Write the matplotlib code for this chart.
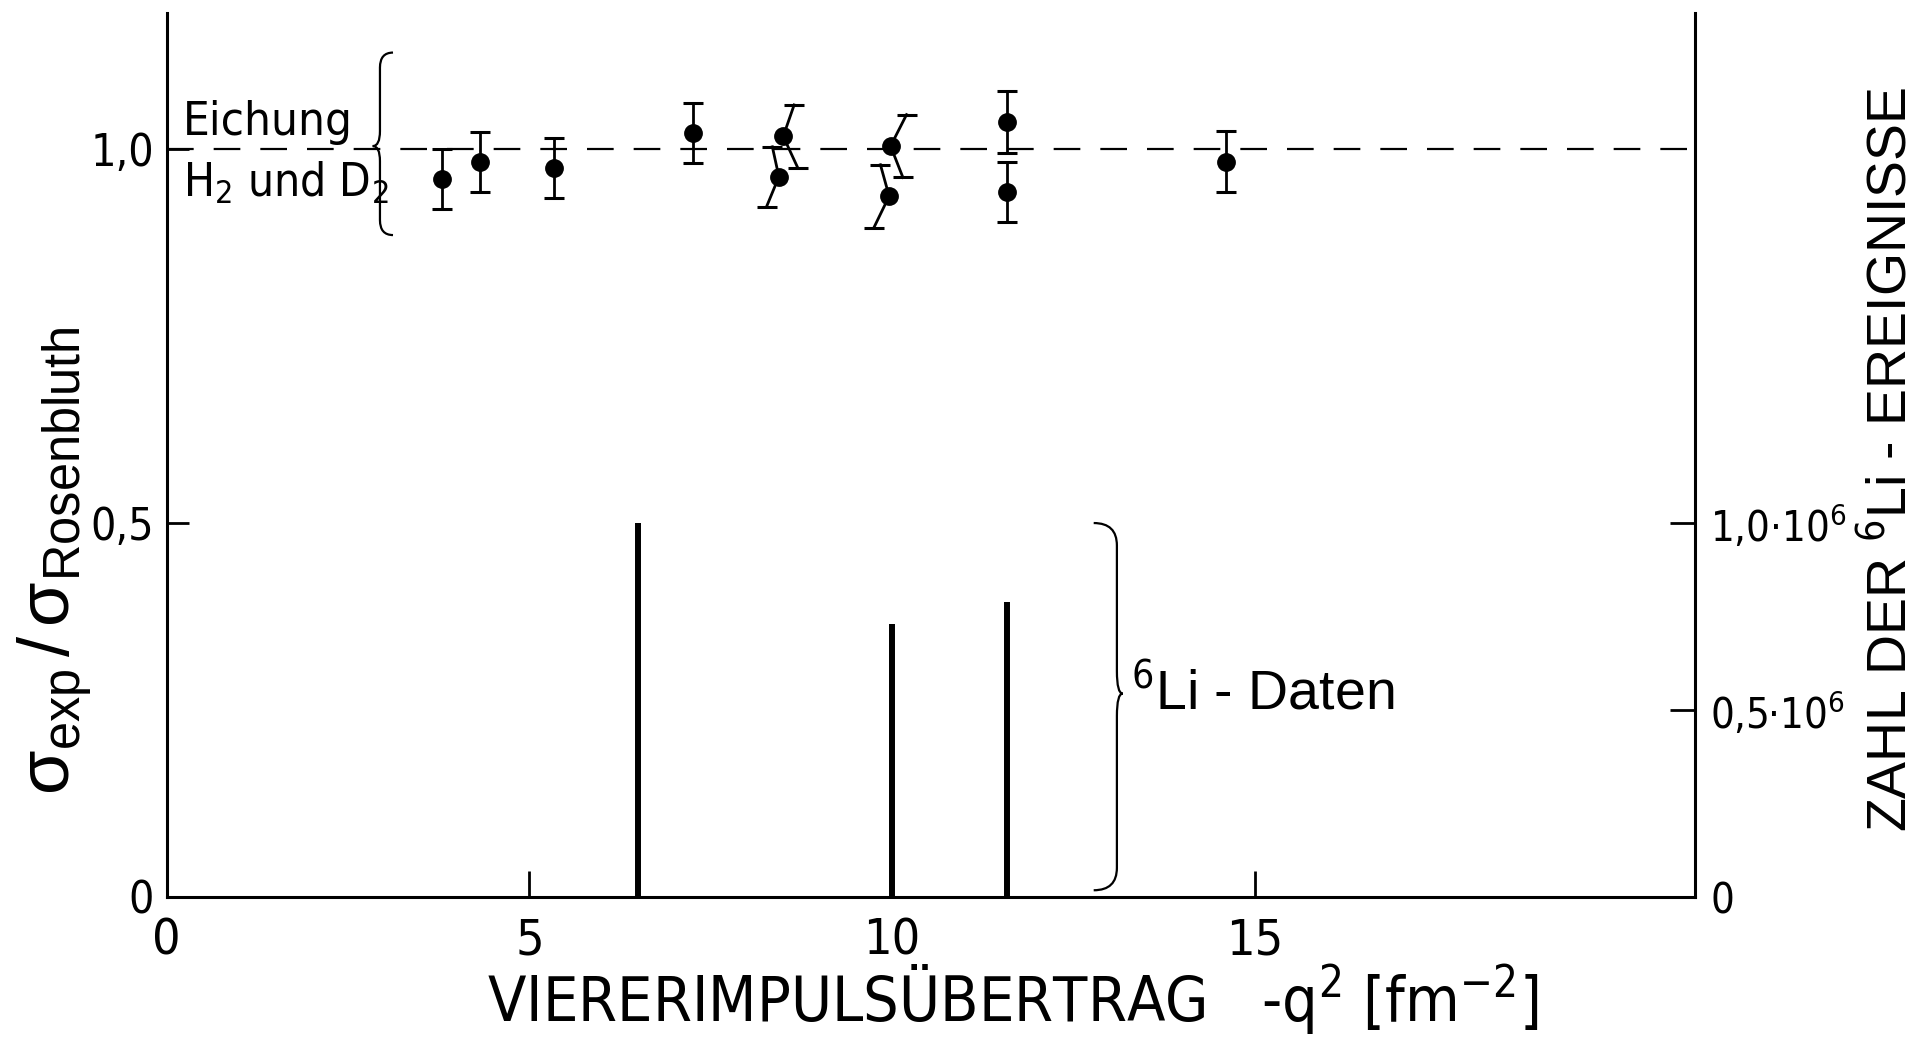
import matplotlib
matplotlib.use("Agg")
import matplotlib.pyplot as plt
from matplotlib import font_manager
from matplotlib.path import Path
from matplotlib.patches import PathPatch

# calibration runs with H2 and D2 targets
cal_q2 = [3.80, 4.32, 5.34, 7.26, 8.50, 8.44, 9.98, 9.96, 11.59, 11.59, 14.60]
cal_ratio = [0.960, 0.983, 0.975, 1.022, 1.017, 0.963, 1.004, 0.937, 1.036, 0.943, 0.983]
cal_err = [0.040, 0.040, 0.040, 0.040, 0.042, 0.040, 0.042, 0.042, 0.041, 0.040, 0.041]
# the error bars of the overlapping points are drawn slanted: q2 of upper / lower cap
cal_cap_hi = [3.80, 4.32, 5.34, 7.26, 8.65, 8.35, 10.20, 9.84, 11.59, 11.59, 14.60]
cal_cap_lo = [3.80, 4.32, 5.34, 7.26, 8.70, 8.27, 10.15, 9.75, 11.59, 11.59, 14.60]

# 6Li measurements: number of events per q2 setting
li_q2 = [6.50, 10.0, 11.59]
li_events = [1.0e6, 0.73e6, 0.79e6]

x_ticks = [0, 5, 10, 15]
x_ticklabels = ["0", "5", "10", "15"]
ratio_ticks = [0, 0.5, 1.0]
ratio_ticklabels = ["0", "0,5", "1,0"]
event_ticks = [0, 0.5e6, 1.0e6]
event_ticklabels = ["0", "0,5·10$^{6}$", "1,0·10$^{6}$"]


def pick_narrow():
    # a condensed sans face, if one is installed
    fonts = font_manager.fontManager.ttflist
    plain = [f for f in fonts if f.style == "normal" and str(f.weight) in ("400", "normal", "regular")]
    for f in plain:
        if f.name == "Liberation Sans Narrow":
            return f.name, "normal"
    for f in plain:
        if f.name in ("DejaVu Sans", "Noto Sans", "Open Sans", "Roboto") and f.stretch == "condensed":
            return f.name, "condensed"
    for f in plain:
        n = f.name.lower()
        if "narrow" in n or "condensed" in n:
            return f.name, "normal"
    return "Liberation Sans", "normal"


NARROW, STRETCH = pick_narrow()
SANS = "Liberation Sans"
narrow_spec = NARROW if STRETCH == "normal" else NARROW + ":stretch=" + STRETCH

plt.rcParams["font.family"] = [SANS, "DejaVu Sans"]
plt.rcParams["mathtext.fontset"] = "custom"
plt.rcParams["mathtext.rm"] = SANS
plt.rcParams["mathtext.it"] = SANS
plt.rcParams["mathtext.sf"] = narrow_spec
plt.rcParams["mathtext.default"] = "sf"
nkw = dict(fontfamily=NARROW, fontstretch=STRETCH)


def brace(ax, x, y0, y1, ym, hook, tip, r, **kw):
    # vertical curly brace at x from y0 to y1, pointing at ym
    verts = [(x + hook, y1), (x, y1), (x, y1 - r),
             (x, ym + r), (x, ym), (x + tip, ym),
             (x, ym), (x, ym - r),
             (x, y0 + r), (x, y0), (x + hook, y0)]
    codes = [Path.MOVETO, Path.CURVE3, Path.CURVE3,
             Path.LINETO, Path.CURVE3, Path.CURVE3,
             Path.CURVE3, Path.CURVE3,
             Path.LINETO, Path.CURVE3, Path.CURVE3]
    ax.add_patch(PathPatch(Path(verts, codes), fill=False, **kw))


fig = plt.figure(figsize=(19.21, 10.38), dpi=100)
ax = fig.add_axes([0.08678, 0.13584, 0.79557, 0.8517])
ax2 = ax.twinx()

ax.set_xlim(0, 21.07)
ax.set_ylim(0, 1.182)
ax2.set_ylim(0, 2.364e6)

# reference line at ratio 1
ax.axhline(1.0, color="k", lw=1.6, dashes=(12, 9), zorder=1)

# calibration points with (partly slanted) error bars
for q, r, e, xh, xl in zip(cal_q2, cal_ratio, cal_err, cal_cap_hi, cal_cap_lo):
    ax.plot([xh, q, xl], [r + e, r, r - e], color="k", lw=2.0, zorder=3)
    ax.plot([xh, xl], [r + e, r - e], ls="none", marker="_", ms=15, mew=2.2,
            color="k", zorder=3)
ax.plot(cal_q2, cal_ratio, ls="none", marker="o", ms=12.5, color="k", zorder=4)

# event numbers of the 6Li runs
ax2.vlines(li_q2, 0, li_events, color="k", lw=4.3)

for a in (ax, ax2):
    a.spines["top"].set_visible(False)
    for s in a.spines.values():
        s.set_linewidth(2.2)
ax.spines["right"].set_visible(False)
ax2.spines["left"].set_visible(False)
ax2.spines["bottom"].set_visible(False)

ax.set_xticks(x_ticks, labels=x_ticklabels, fontsize=36, **nkw)
ax.set_yticks(ratio_ticks, labels=ratio_ticklabels, fontsize=32, **nkw)
ax2.set_yticks(event_ticks, labels=event_ticklabels, fontsize=30, **nkw)
ax.tick_params(axis="x", direction="in", length=19, width=2, pad=14)
ax.tick_params(axis="y", direction="in", length=16, width=2, pad=9)
ax2.tick_params(axis="y", direction="in", length=18, width=2, pad=11)

# braces and annotations
brace(ax, 2.94, 0.885, 1.129, 1.004, 0.18, -0.10, 0.02, lw=1.6, color="k")
brace(ax, 13.10, 0.009, 0.50, 0.272, -0.32, 0.08, 0.03, lw=1.6, color="k")
ax.text(0.22, 1.019, "Eichung", fontsize=34, va="baseline", **nkw)
ax.text(0.22, 0.936, "H$_2$ und D$_2$", fontsize=33, va="baseline", **nkw)
ax.text(13.30, 0.25, "$^{6}$Li - Daten", fontsize=40, va="baseline")

fig.text(0.5273, 0.0366, r"VIERERIMPULSÜBERTRAG   -q$^{2}$ [fm$^{-2}$]",
         fontsize=45, ha="center", va="center", **nkw)
fig.text(0.0285, 0.4596, r"$\mathrm{\sigma_{exp}\,/\,\sigma_{Rosenbluth}}$",
         fontsize=52, rotation=90, ha="center", va="center")
fig.text(0.9845, 0.5578, "ZAHL DER $^{6}$Li - EREIGNISSE",
         fontsize=40, rotation=90, ha="center", va="center")

fig.savefig("out.png", dpi=100)
